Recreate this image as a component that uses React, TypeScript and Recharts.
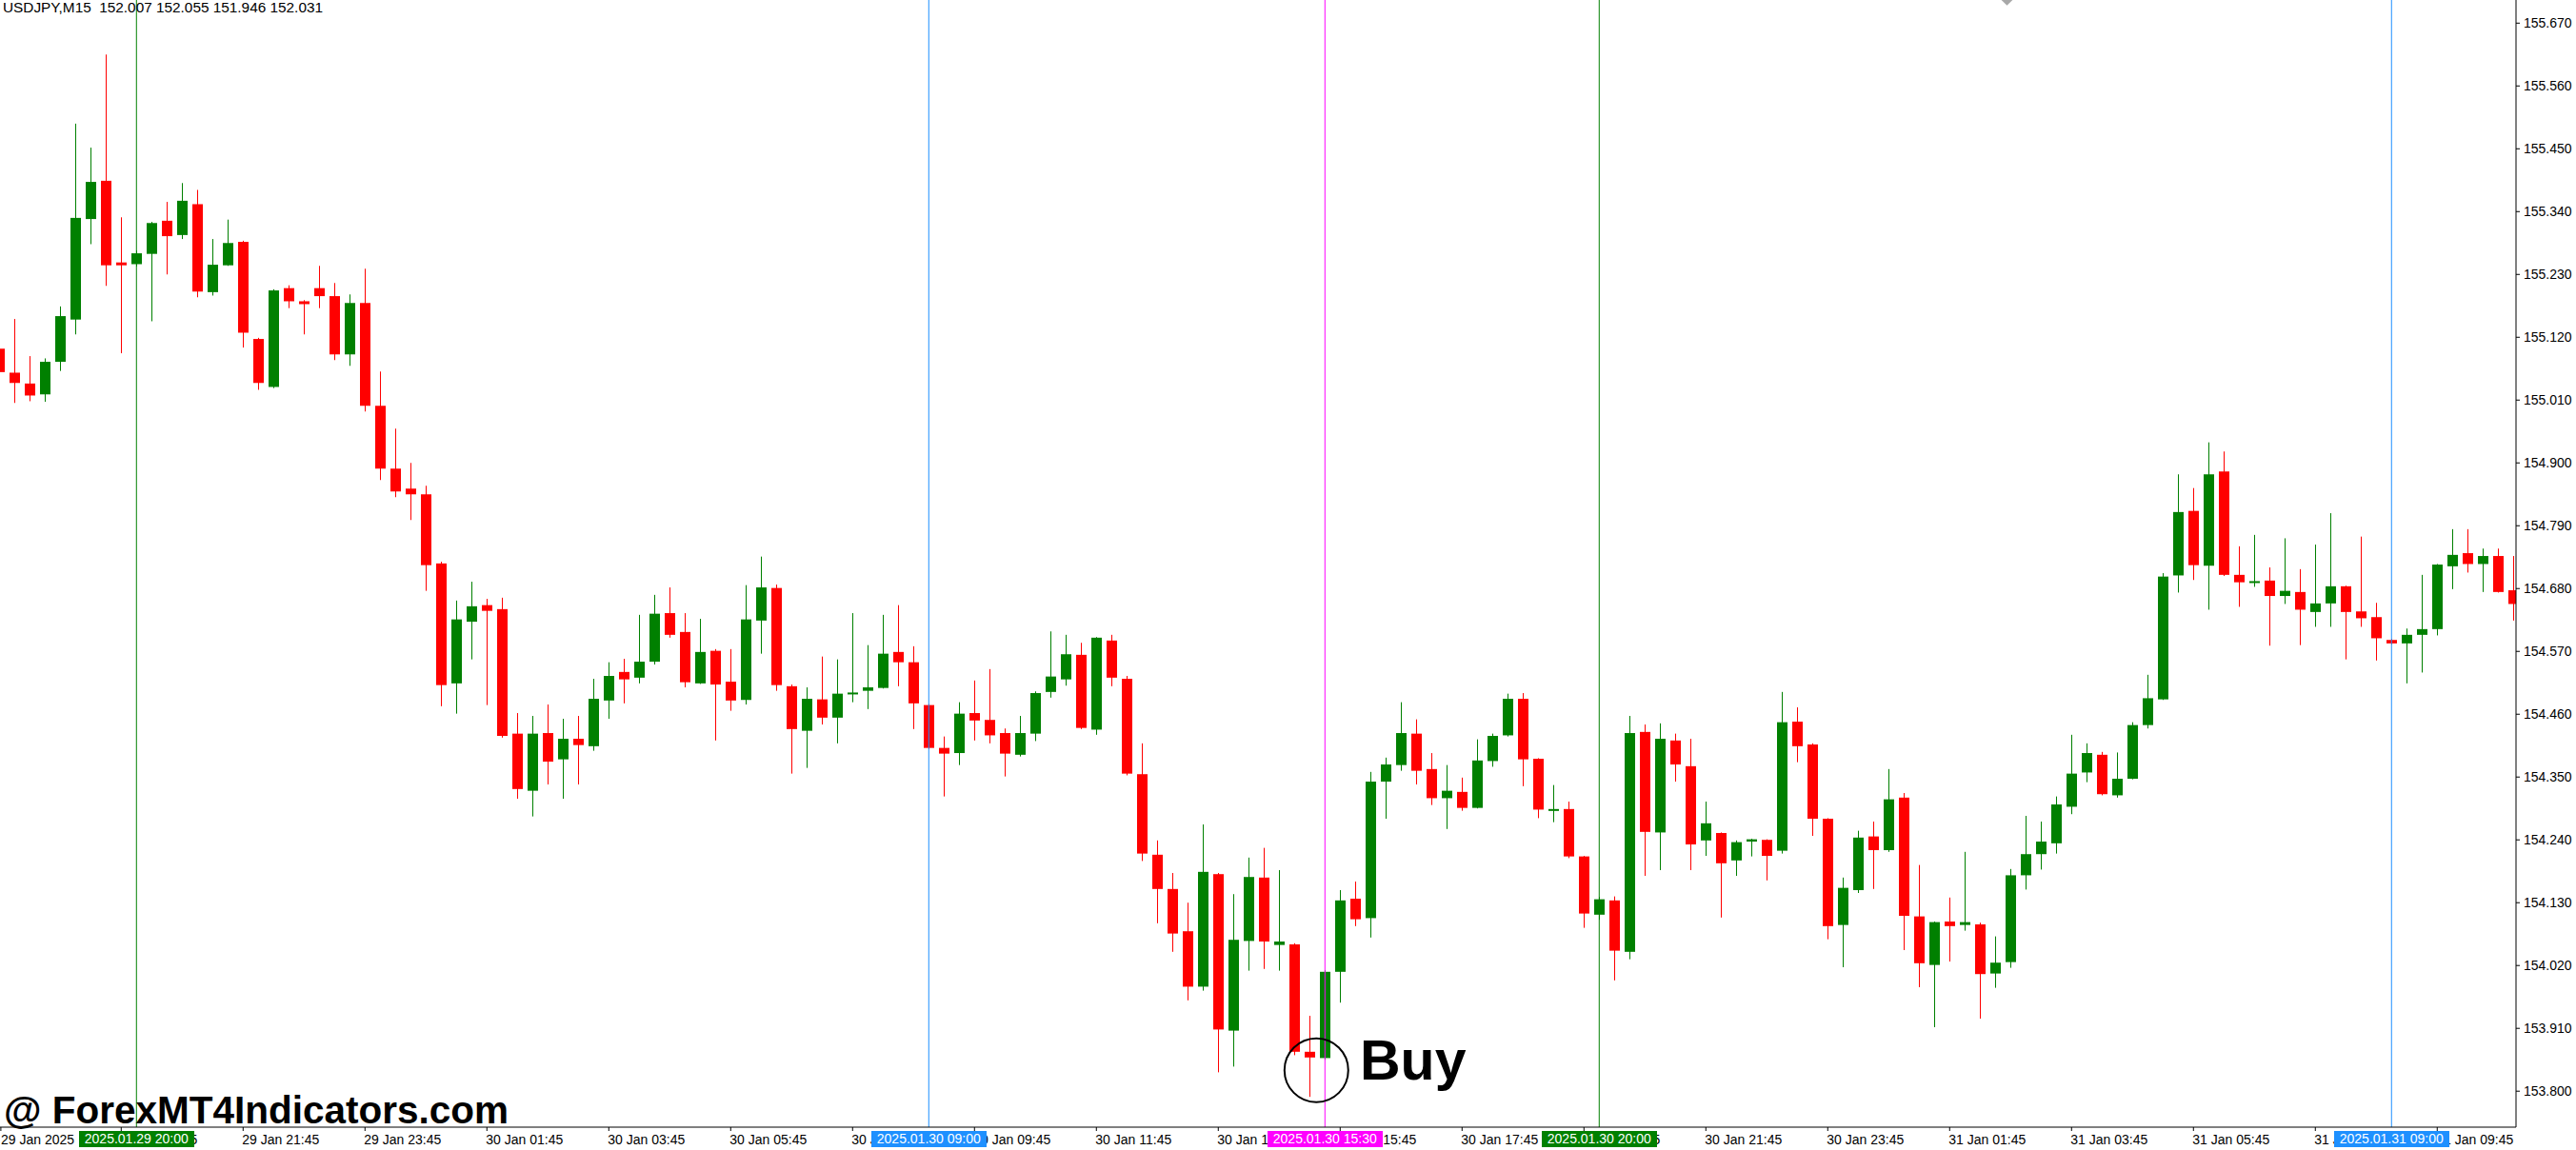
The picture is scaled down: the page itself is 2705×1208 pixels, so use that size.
import { ComposedChart, Bar, XAxis, YAxis, ReferenceLine } from "recharts";

// USDJPY M15, one entry per bar (bar 0 is the partly hidden bar at the left edge)
const opens = [
  155.100, 155.058, 155.039, 155.020, 155.077, 155.151, 155.327, 155.394, 155.251, 155.248,
  155.266, 155.324, 155.299, 155.353, 155.199, 155.246, 155.287, 155.117, 155.033, 155.206,
  155.183, 155.206, 155.192, 155.090, 155.180, 155.000, 154.890, 154.855, 154.845, 154.724,
  154.514, 154.622, 154.651, 154.644, 154.426, 154.326, 154.427, 154.381, 154.417, 154.404,
  154.484, 154.534, 154.524, 154.552, 154.637, 154.604, 154.514, 154.571, 154.517, 154.485,
  154.624, 154.681, 154.509, 154.431, 154.486, 154.454, 154.495, 154.501, 154.506, 154.569,
  154.551, 154.476, 154.401, 154.392, 154.462, 154.450, 154.427, 154.389, 154.426, 154.499,
  154.521, 154.564, 154.433, 154.589, 154.522, 154.355, 154.214, 154.154, 154.080, 153.983,
  154.180, 153.906, 154.063, 154.174, 154.056, 154.057, 153.869, 153.858, 154.009, 154.137,
  154.103, 154.342, 154.371, 154.426, 154.364, 154.313, 154.324, 154.296, 154.378, 154.423,
  154.487, 154.382, 154.291, 154.294, 154.211, 154.109, 154.134, 154.044, 154.429, 154.253,
  154.414, 154.369, 154.239, 154.252, 154.204, 154.237, 154.240, 154.221, 154.447, 154.407,
  154.277, 154.091, 154.152, 154.246, 154.222, 154.314, 154.106, 154.021, 154.097, 154.091,
  154.092, 154.006, 154.026, 154.178, 154.215, 154.234, 154.298, 154.358, 154.389, 154.318,
  154.347, 154.441, 154.486, 154.703, 154.816, 154.720, 154.885, 154.704, 154.690, 154.694,
  154.667, 154.674, 154.639, 154.654, 154.684, 154.640, 154.630, 154.590, 154.584, 154.599,
  154.609, 154.719, 154.742, 154.723, 154.737, 154.677,
];

const highs = [
  155.115, 155.152, 155.087, 155.083, 155.174, 155.494, 155.452, 155.615, 155.330, 155.272,
  155.322, 155.357, 155.390, 155.378, 155.292, 155.326, 155.289, 155.119, 155.204, 155.211,
  155.185, 155.245, 155.215, 155.195, 155.240, 155.060, 154.960, 154.900, 154.860, 154.727,
  154.659, 154.692, 154.662, 154.664, 154.462, 154.457, 154.477, 154.452, 154.457, 154.522,
  154.551, 154.557, 154.634, 154.669, 154.682, 154.637, 154.627, 154.574, 154.574, 154.686,
  154.736, 154.687, 154.512, 154.507, 154.561, 154.556, 154.637, 154.581, 154.634, 154.651,
  154.579, 154.478, 154.421, 154.481, 154.519, 154.539, 154.435, 154.457, 154.500, 154.605,
  154.599, 154.585, 154.595, 154.599, 154.527, 154.409, 154.239, 154.182, 154.130, 154.267,
  154.182, 154.145, 154.209, 154.226, 154.187, 154.059, 153.932, 154.012, 154.152, 154.167,
  154.359, 154.384, 154.481, 154.451, 154.392, 154.371, 154.349, 154.416, 154.426, 154.496,
  154.497, 154.383, 154.336, 154.307, 154.212, 154.140, 154.141, 154.457, 154.442, 154.444,
  154.426, 154.417, 154.307, 154.253, 154.239, 154.242, 154.241, 154.499, 154.472, 154.409,
  154.278, 154.174, 154.256, 154.272, 154.364, 154.322, 154.196, 154.097, 154.139, 154.219,
  154.095, 154.071, 154.189, 154.282, 154.272, 154.316, 154.424, 154.409, 154.394, 154.393,
  154.446, 154.529, 154.707, 154.880, 154.856, 154.936, 154.920, 154.754, 154.774, 154.717,
  154.768, 154.714, 154.757, 154.812, 154.685, 154.771, 154.655, 154.592, 154.610, 154.704,
  154.723, 154.784, 154.784, 154.750, 154.750, 154.737,
];

const lows = [
  155.050, 155.005, 155.008, 155.007, 155.061, 155.125, 155.283, 155.210, 155.092, 155.244,
  155.148, 155.230, 155.292, 155.190, 155.193, 155.245, 155.102, 155.028, 155.031, 155.171,
  155.125, 155.171, 155.080, 155.070, 154.990, 154.870, 154.840, 154.800, 154.676, 154.474,
  154.461, 154.556, 154.476, 154.419, 154.312, 154.281, 154.337, 154.312, 154.337, 154.396,
  154.452, 154.479, 154.514, 154.547, 154.594, 154.507, 154.513, 154.414, 154.466, 154.477,
  154.566, 154.501, 154.356, 154.366, 154.442, 154.409, 154.481, 154.469, 154.505, 154.509,
  154.434, 154.399, 154.316, 154.371, 154.414, 154.409, 154.351, 154.386, 154.413, 154.489,
  154.510, 154.434, 154.424, 154.509, 154.353, 154.203, 154.094, 154.044, 153.959, 153.976,
  153.833, 153.843, 154.011, 154.014, 154.011, 153.863, 153.790, 153.855, 153.955, 154.089,
  154.069, 154.277, 154.361, 154.337, 154.301, 154.259, 154.291, 154.295, 154.368, 154.421,
  154.334, 154.278, 154.271, 154.208, 154.086, 154.100, 153.994, 154.031, 154.177, 154.187,
  154.342, 154.187, 154.212, 154.104, 154.177, 154.211, 154.169, 154.216, 154.376, 154.247,
  154.066, 154.017, 154.147, 154.154, 154.219, 154.047, 153.982, 153.912, 154.027, 154.081,
  153.927, 153.981, 154.016, 154.153, 154.188, 154.216, 154.285, 154.341, 154.318, 154.314,
  154.346, 154.435, 154.485, 154.673, 154.695, 154.643, 154.702, 154.648, 154.683, 154.580,
  154.653, 154.581, 154.613, 154.613, 154.556, 154.613, 154.554, 154.582, 154.514, 154.533,
  154.598, 154.679, 154.708, 154.674, 154.673, 154.624,
];

const closes = [
  155.059, 155.040, 155.018, 155.077, 155.157, 155.329, 155.392, 155.246, 155.246, 155.267,
  155.320, 155.297, 155.359, 155.200, 155.247, 155.285, 155.128, 155.040, 155.202, 155.183,
  155.178, 155.192, 155.090, 155.180, 155.000, 154.890, 154.850, 154.845, 154.721, 154.511,
  154.626, 154.649, 154.641, 154.422, 154.329, 154.426, 154.377, 154.417, 154.406, 154.487,
  154.527, 154.521, 154.552, 154.636, 154.599, 154.516, 154.569, 154.512, 154.484, 154.626,
  154.682, 154.511, 154.434, 154.487, 154.454, 154.496, 154.498, 154.507, 154.566, 154.551,
  154.479, 154.401, 154.391, 154.461, 154.449, 154.423, 154.391, 154.427, 154.497, 154.526,
  154.565, 154.436, 154.594, 154.524, 154.356, 154.216, 154.154, 154.076, 153.983, 154.184,
  153.908, 154.065, 154.175, 154.062, 154.062, 153.869, 153.859, 154.009, 154.134, 154.101,
  154.342, 154.372, 154.427, 154.361, 154.313, 154.326, 154.296, 154.379, 154.422, 154.487,
  154.381, 154.293, 154.294, 154.211, 154.111, 154.136, 154.046, 154.427, 154.254, 154.417,
  154.372, 154.232, 154.269, 154.199, 154.236, 154.241, 154.212, 154.446, 154.404, 154.277,
  154.089, 154.156, 154.244, 154.222, 154.311, 154.107, 154.024, 154.096, 154.089, 154.096,
  154.005, 154.025, 154.178, 154.215, 154.237, 154.302, 154.356, 154.392, 154.320, 154.347,
  154.441, 154.488, 154.701, 154.814, 154.721, 154.880, 154.704, 154.691, 154.693, 154.667,
  154.676, 154.643, 154.654, 154.684, 154.639, 154.628, 154.593, 154.584, 154.599, 154.609,
  154.722, 154.739, 154.723, 154.737, 154.674, 154.653,
];

const priceTicks = [
  153.8, 153.91, 154.02, 154.13, 154.24, 154.35, 154.46, 154.57, 154.68,
  154.79, 154.9, 155.01, 155.12, 155.23, 155.34, 155.45, 155.56, 155.67,
];

// bar index -> time label on the bottom scale
const timeTicks = [0.1, 8, 16, 24, 32, 40, 48, 56, 64, 72, 80, 88, 96, 104, 112, 120, 128, 136, 144, 152, 160];
const timeLabels = [
  "29 Jan 2025", "29 Jan 19:45", "29 Jan 21:45", "29 Jan 23:45", "30 Jan 01:45", "30 Jan 03:45",
  "30 Jan 05:45", "30 Jan 07:45", "30 Jan 09:45", "30 Jan 11:45", "30 Jan 13:45", "30 Jan 15:45",
  "30 Jan 17:45", "30 Jan 19:45", "30 Jan 21:45", "30 Jan 23:45", "31 Jan 01:45", "31 Jan 03:45",
  "31 Jan 05:45", "31 Jan 07:45", "31 Jan 09:45",
];

// vertical time markers
const markerBars = [9, 61, 87, 105, 157];
const markerLabels = ["2025.01.29 20:00", "2025.01.30 09:00", "2025.01.30 15:30", "2025.01.30 20:00", "2025.01.31 09:00"];
const markerColors = ["#008000", "#1e90ff", "#ff00ff", "#008000", "#1e90ff"];

const header = "USDJPY,M15  152.007 152.055 151.946 152.031";
const signalBar = 86;

const W = 2705;
const H = 1208;
const PLOT_W = 2642;
const PLOT_H = 1184;
const X_MIN = 0.044;
const X_MAX = 165.17;
const Y_MIN = 153.737;
const Y_MAX = 155.7105;
const FONT = "'Liberation Sans', Arial, sans-serif";

const data = opens.map((o, i) => ({
  i,
  o,
  h: highs[i],
  l: lows[i],
  c: closes[i],
  range: [lows[i], highs[i]],
}));

const xOf = (i: number) => ((i - X_MIN) / (X_MAX - X_MIN)) * PLOT_W;
const yOf = (p: number) => ((Y_MAX - p) / (Y_MAX - Y_MIN)) * PLOT_H;

function Candle(props: any) {
  const { x, y, width, height, payload } = props;
  if (!payload || height == null) return null;
  const { o, h, l, c } = payload;
  const color = c >= o ? "#008000" : "#ff0000";
  const ppu = h > l ? height / (h - l) : 0;
  const cx = Math.round(x + width / 2);
  const top = y + (h - Math.max(o, c)) * ppu;
  const bot = y + (h - Math.min(o, c)) * ppu;
  return (
    <g>
      <line x1={cx + 0.5} x2={cx + 0.5} y1={y} y2={y + height} stroke={color} strokeWidth={1} />
      <rect x={cx - 5} y={top} width={11} height={Math.max(bot - top, 2)} fill={color} />
    </g>
  );
}

function TimeTick(props: any) {
  const { x, payload } = props;
  const idx = timeTicks.indexOf(payload.value);
  return (
    <text x={idx === 0 ? 1 : x - 1} y={1202} fontSize={14} fontFamily={FONT} fill="#000" textAnchor="start">
      {timeLabels[idx]}
    </text>
  );
}

function PriceTick(props: any) {
  const { y, payload } = props;
  return (
    <text x={2650} y={y + 5} fontSize={14} fontFamily={FONT} fill="#000" textAnchor="start">
      {Number(payload.value).toFixed(3)}
    </text>
  );
}

export default function App() {
  const sx = xOf(signalBar) + 7;
  return (
    <div style={{ position: "absolute", left: 0, top: 0, width: W, height: H, background: "#fff", overflow: "hidden" }}>
      <ComposedChart width={W} height={H} data={data} margin={{ top: 0, right: 0, bottom: 0, left: 0 }}>
        <XAxis
          dataKey="i"
          type="number"
          domain={[X_MIN, X_MAX]}
          allowDataOverflow
          ticks={timeTicks}
          interval={0}
          height={H - PLOT_H}
          tickSize={4}
          axisLine={{ stroke: "#000" }}
          tickLine={{ stroke: "#000" }}
          tick={<TimeTick />}
        />
        <YAxis
          orientation="right"
          type="number"
          domain={[Y_MIN, Y_MAX]}
          allowDataOverflow
          ticks={priceTicks}
          interval={0}
          width={W - PLOT_W}
          tickSize={4}
          axisLine={{ stroke: "#000" }}
          tickLine={{ stroke: "#000" }}
          tick={<PriceTick />}
        />
        <Bar dataKey="range" barSize={11} shape={<Candle />} isAnimationActive={false} />
        {markerBars.map((b, k) => (
          <ReferenceLine key={b} x={b} stroke={markerColors[k]} strokeWidth={1} />
        ))}
      </ComposedChart>

      <svg width={W} height={H} style={{ position: "absolute", left: 0, top: 0, pointerEvents: "none" }}>
        <text x={3} y={13} fontSize={14} fontFamily={FONT} fill="#000" xmlSpace="preserve" textLength={336} lengthAdjust="spacingAndGlyphs">
          {header}
        </text>
        <rect x={2103} y={-5} width={9} height={9} fill="#a8a8a8" transform="rotate(45 2107.5 -0.5)" />
        <circle cx={sx} cy={yOf(153.86) + 14} r={33.5} fill="none" stroke="#000" strokeWidth={2} />
        <text x={1428} y={1134} fontSize={59} fontWeight="bold" fontFamily={FONT} fill="#000">
          Buy
        </text>
        <text x={4} y={1180} fontSize={40.5} fontWeight="bold" fontFamily={FONT} fill="#000">
          @ ForexMT4Indicators.com
        </text>
      </svg>

      {markerBars.map((b, k) => (
        <div
          key={b}
          style={{
            position: "absolute",
            left: xOf(b) - 60.5,
            top: 1188,
            width: 121,
            height: 17,
            background: markerColors[k],
            color: "#fff",
            fontFamily: FONT,
            fontSize: 14,
            lineHeight: "17px",
            textAlign: "center",
            whiteSpace: "nowrap",
          }}
        >
          {markerLabels[k]}
        </div>
      ))}
    </div>
  );
}
